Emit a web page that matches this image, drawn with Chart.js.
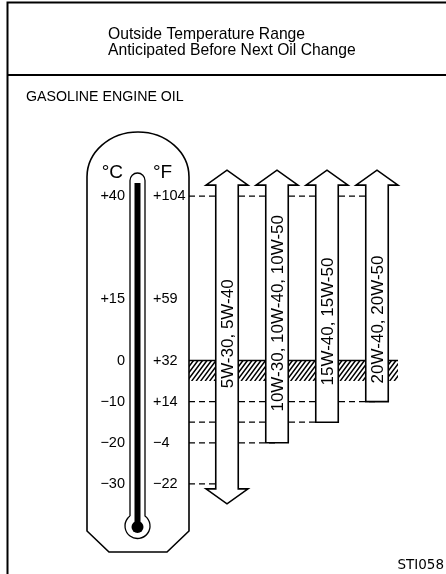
<!DOCTYPE html>
<html>
<head>
<meta charset="utf-8">
<script src="https://cdn.jsdelivr.net/npm/chart.js@4.4.1/dist/chart.umd.min.js"></script>
<style>
  html, body { margin: 0; padding: 0; background: #fff; }
  canvas { display: block; }
</style>
</head>
<body>
<canvas id="oilChart" width="446" height="574"></canvas>
<script>
// oil grades and the outside temperature range (°C) each one is good for
const grades = ['5W-30, 5W-40', '10W-30, 10W-40, 10W-50', '15W-40, 15W-50', '20W-40, 20W-50'];
const lowTempC = [-30, -20, -15, -10];
const highTempC = [40, 40, 40, 40];
const openBelow = [true, false, false, false];

// thermometer scale marks in °C (the °F column is converted from these)
const scaleTicksC = [40, 15, 0, -10, -20, -30];

// hatched band just under freezing
const hatchBandC = [0, -5];

const FONT = "'Liberation Sans', Arial, Helvetica, sans-serif";

const signed = v => (v > 0 ? '+' : v < 0 ? '\u2212' : '') + Math.abs(v);
const toF = c => Math.round(c * 9 / 5 + 32);

const oilDiagram = {
  id: 'oilDiagram',

  beforeDraw(chart) {
    const ctx = chart.ctx;
    ctx.save();
    ctx.fillStyle = '#fff';
    ctx.fillRect(0, 0, chart.width, chart.height);

    // frame and header rule
    ctx.strokeStyle = '#000';
    ctx.lineWidth = 2;
    ctx.beginPath();
    ctx.moveTo(7.5, chart.height);
    ctx.lineTo(7.5, 2.5);
    ctx.lineTo(chart.width, 2.5);
    ctx.moveTo(7.5, 75);
    ctx.lineTo(chart.width, 75);
    ctx.stroke();

    ctx.fillStyle = '#000';
    ctx.textBaseline = 'alphabetic';
    ctx.textAlign = 'left';
    ctx.font = '15.7px ' + FONT;
    ctx.fillText('Outside Temperature Range', 108, 39);
    ctx.fillText('Anticipated Before Next Oil Change', 108, 55);
    ctx.font = '14.2px ' + FONT;
    ctx.fillText('GASOLINE ENGINE OIL', 26, 101);

    ctx.font = "13.5px 'DejaVu Sans', sans-serif";
    ctx.textAlign = 'right';
    ctx.fillText('STI058', 444, 569);
    ctx.restore();
  },

  beforeDatasetsDraw(chart, args, opts) {
    const ctx = chart.ctx;
    const y = chart.scales.y;
    const bars = chart.getDatasetMeta(0).data;
    const t = opts.thermo;

    ctx.save();
    ctx.strokeStyle = '#000';
    ctx.fillStyle = '#000';
    ctx.lineWidth = 1.6;

    // thermometer body
    ctx.beginPath();
    ctx.moveTo(t.left, t.bodyBottom);
    ctx.lineTo(t.left, t.domeY);
    ctx.ellipse((t.left + t.right) / 2, t.domeY, (t.right - t.left) / 2, t.domeH, 0, Math.PI, Math.PI * 2);
    ctx.lineTo(t.right, t.bodyBottom);
    ctx.lineTo(t.right - t.chamfer, t.bottom);
    ctx.lineTo(t.left + t.chamfer, t.bottom);
    ctx.closePath();
    ctx.stroke();

    // glass tube with bulb
    const hw = t.tubeW / 2;
    const join = Math.sqrt(t.bulbR * t.bulbR - hw * hw);
    ctx.lineWidth = 1.3;
    ctx.beginPath();
    ctx.moveTo(t.cx - hw, t.bulbY - join);
    ctx.lineTo(t.cx - hw, t.tubeTop + hw);
    ctx.arc(t.cx, t.tubeTop + hw, hw, Math.PI, 0);
    ctx.lineTo(t.cx + hw, t.bulbY - join);
    ctx.arc(t.cx, t.bulbY, t.bulbR, Math.atan2(-join, hw), Math.atan2(-join, -hw) + Math.PI * 2);
    ctx.stroke();

    // mercury column
    ctx.fillRect(t.cx - t.mercuryW / 2, t.mercuryTop, t.mercuryW, t.bulbY - t.mercuryTop);
    ctx.beginPath();
    ctx.arc(t.cx, t.bulbY + 1, t.mercuryR, 0, Math.PI * 2);
    ctx.fill();

    // unit headings
    ctx.font = '19px ' + FONT;
    ctx.textAlign = 'right';
    ctx.fillText('\u00B0C', 123, 178);
    ctx.textAlign = 'left';
    ctx.fillText('\u00B0F', 153, 178);

    const last = bars[bars.length - 1];
    const x0 = t.right;
    const x1 = last.x + opts.headHalf;

    // hatched band below 0 °C
    const hTop = y.getPixelForValue(hatchBandC[0]);
    const hBot = y.getPixelForValue(hatchBandC[1]);
    const h = hBot - hTop;
    const run = h * 0.75;
    ctx.save();
    ctx.beginPath();
    ctx.rect(x0, hTop, x1 - x0, h);
    ctx.clip();
    ctx.lineWidth = 1.5;
    ctx.beginPath();
    for (let k = x0 - run; k < x1 + run; k += 4.5) {
      ctx.moveTo(k, hBot);
      ctx.lineTo(k + run, hTop);
    }
    ctx.stroke();
    ctx.restore();
    ctx.lineWidth = 1.6;
    ctx.beginPath();
    ctx.moveTo(x0, hTop);
    ctx.lineTo(x1, hTop);
    ctx.stroke();

    // dashed guides from the scale to each range end
    ctx.lineWidth = 1.3;
    ctx.setLineDash([6, 4]);
    ctx.beginPath();
    const yHigh = y.getPixelForValue(Math.max(...highTempC));
    ctx.moveTo(x0, yHigh);
    ctx.lineTo(last.x, yHigh);
    bars.forEach((b, i) => {
      const yy = y.getPixelForValue(lowTempC[i]);
      ctx.moveTo(x0, yy);
      ctx.lineTo(b.x, yy);
    });
    ctx.stroke();
    ctx.restore();
  },

  afterDatasetsDraw(chart, args, opts) {
    const ctx = chart.ctx;
    const y = chart.scales.y;
    const bars = chart.getDatasetMeta(0).data;

    ctx.save();
    ctx.strokeStyle = '#000';
    ctx.fillStyle = '#fff';
    ctx.lineWidth = 1.6;
    ctx.lineJoin = 'miter';

    bars.forEach((b, i) => {
      const p = b.getProps(['x', 'y', 'base', 'width'], true);
      const l = p.x - p.width / 2;
      const r = p.x + p.width / 2;
      const top = Math.min(p.y, p.base) - opts.stemExtra;
      let bot = Math.max(p.y, p.base);

      ctx.beginPath();
      ctx.moveTo(l, top);
      ctx.lineTo(p.x - opts.headHalf, top);
      ctx.lineTo(p.x, top - opts.headLen);
      ctx.lineTo(p.x + opts.headHalf, top);
      ctx.lineTo(r, top);
      if (openBelow[i]) {
        bot += opts.tailExtra;
        ctx.lineTo(r, bot);
        ctx.lineTo(p.x + opts.headHalf, bot);
        ctx.lineTo(p.x, bot + opts.headLen);
        ctx.lineTo(p.x - opts.headHalf, bot);
        ctx.lineTo(l, bot);
      } else {
        ctx.lineTo(r, bot);
        ctx.lineTo(l, bot);
      }
      ctx.closePath();
      ctx.fill();
      ctx.stroke();
    });

    // grade names written up the shafts
    ctx.fillStyle = '#000';
    ctx.font = '17px ' + FONT;
    ctx.textAlign = 'center';
    ctx.textBaseline = 'middle';
    bars.forEach((b, i) => {
      ctx.save();
      ctx.translate(b.x + 1, y.getPixelForValue(opts.labelAtC[i]));
      ctx.rotate(-Math.PI / 2);
      ctx.fillText(grades[i], 0, 0);
      ctx.restore();
    });
    ctx.restore();
  }
};

const tickFont = { family: FONT, size: 14.5 };

new Chart(document.getElementById('oilChart'), {
  type: 'bar',
  data: {
    labels: grades,
    datasets: [{
      data: lowTempC.map((lo, i) => [lo, highTempC[i]]),
      backgroundColor: '#fff',
      borderWidth: 0,
      categoryPercentage: 1,
      barPercentage: 0.45
    }]
  },
  options: {
    responsive: false,
    animation: false,
    events: [],
    layout: { padding: { left: 90, right: 44, top: 155, bottom: 49 } },
    plugins: {
      legend: { display: false },
      tooltip: { enabled: false },
      oilDiagram: {
        stemExtra: 11,
        tailExtra: 5,
        headLen: 15,
        headHalf: 21,
        labelAtC: [6.5, 11.5, 9.5, 10],
        thermo: {
          left: 87, right: 189, domeY: 177, domeH: 45,
          bodyBottom: 531, bottom: 552, chamfer: 22,
          cx: 137.5, tubeW: 15, tubeTop: 173,
          bulbY: 526, bulbR: 12.5,
          mercuryW: 6, mercuryTop: 183, mercuryR: 6
        }
      }
    },
    scales: {
      x: { display: false },
      y: {
        position: 'left',
        weight: 10,
        min: -40,
        max: 50,
        grid: { display: false, drawTicks: false },
        border: { display: false },
        afterBuildTicks: s => { s.ticks = scaleTicksC.map(v => ({ value: v })); },
        afterFit: s => { s.width = 63; },
        ticks: {
          padding: 28,
          autoSkip: false,
          color: '#000',
          font: tickFont,
          callback: v => signed(v)
        }
      },
      yF: {
        position: 'left',
        weight: 1,
        min: -40,
        max: 50,
        grid: { display: false, drawTicks: false },
        border: { display: false },
        afterBuildTicks: s => { s.ticks = scaleTicksC.map(v => ({ value: v })); },
        afterFit: s => { s.width = 49; },
        ticks: {
          crossAlign: 'far',
          autoSkip: false,
          color: '#000',
          font: tickFont,
          callback: v => signed(toF(v))
        }
      }
    }
  },
  plugins: [oilDiagram]
});
</script>
</body>
</html>
